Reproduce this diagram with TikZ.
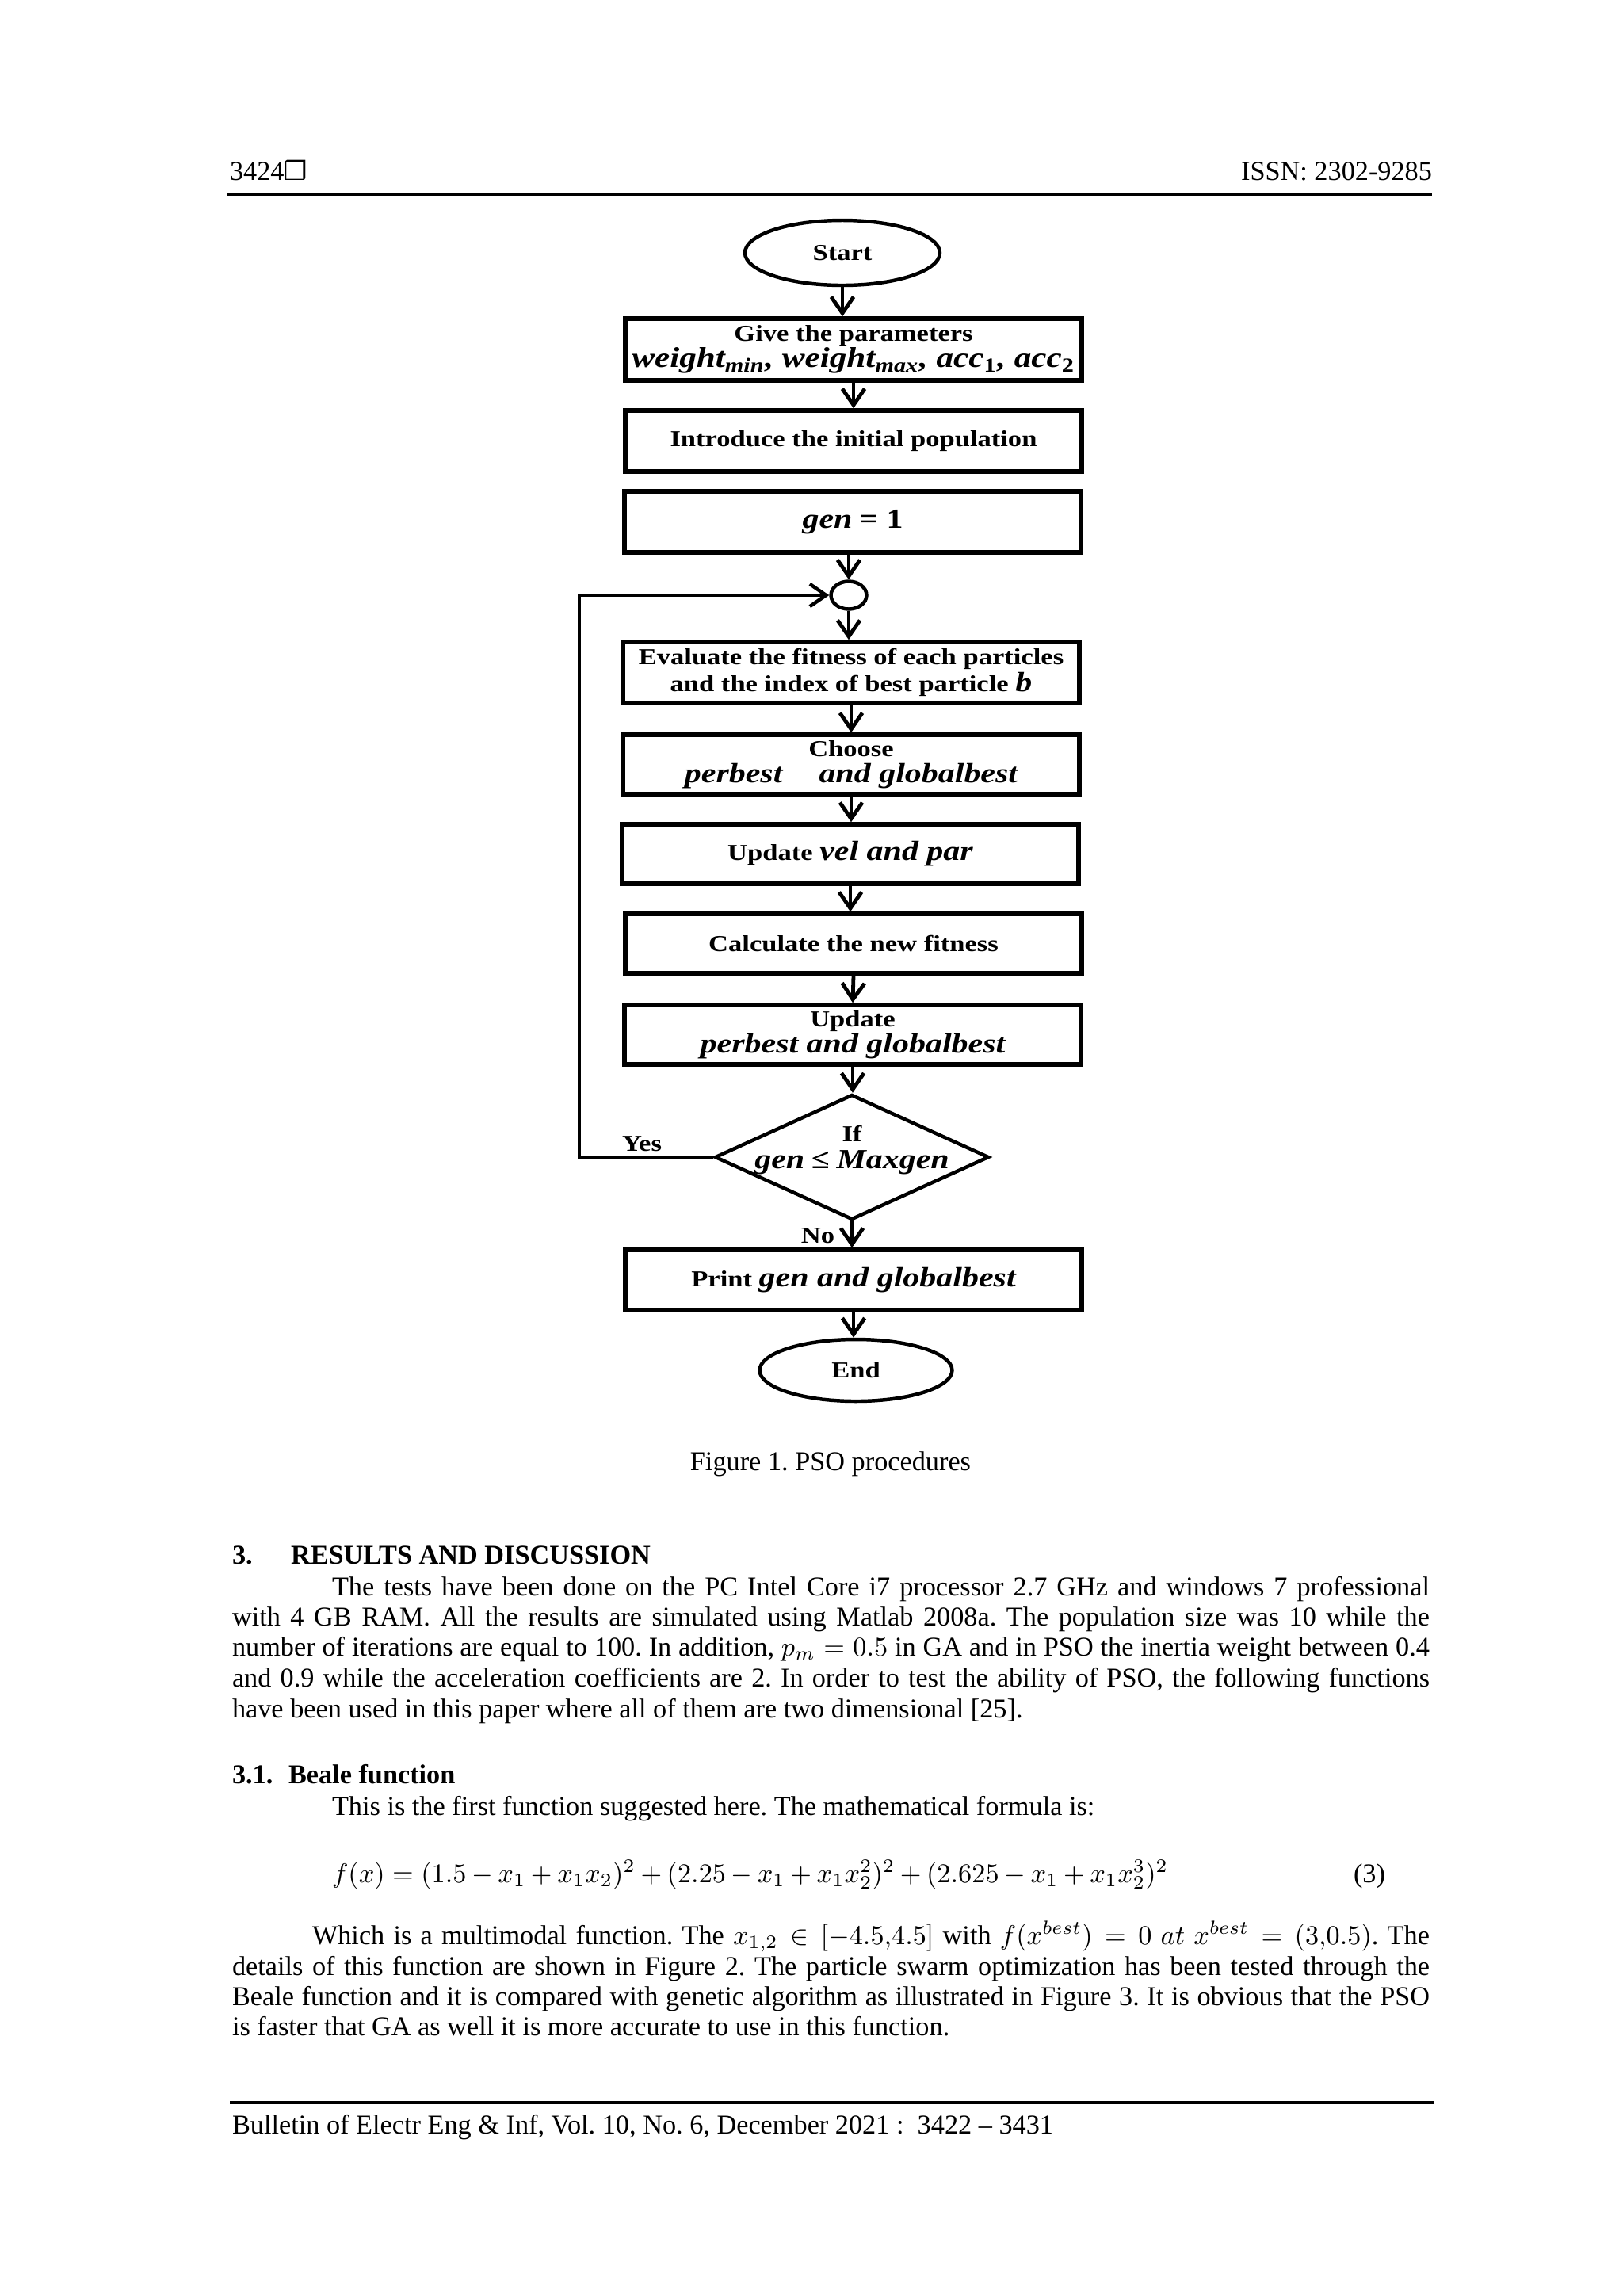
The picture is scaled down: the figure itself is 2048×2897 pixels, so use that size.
\documentclass[tikz,border=0pt]{standalone}
\usepackage{amsmath}
\usepackage{fontspec}
\setmainfont{Liberation Serif}
\newfontfamily\dejavu{DejaVu Sans}
\newfontfamily\fcfam[FakeStretch=1.2]{Liberation Serif}
\usetikzlibrary{shapes.geometric,arrows.meta}
\newdimen\pxu \pxu=0.1025390625mm
\frenchspacing
\newcommand\fcfont{\fcfam\bfseries\fontsize{8.4}{9.7}\selectfont}
\newcommand\vsz{\fontsize{10.2}{9.7}\selectfont\itshape}
\newcommand\vi[1]{{\vsz #1}}
\begin{document}
\begin{tikzpicture}[x=0.1025390625mm,y=-0.1025390625mm,
  pg/.style={anchor=base west, inner sep=0pt, outer sep=0pt, font=\fontsize{10}{12}\selectfont},
  pgb/.style={pg, font=\fontsize{10}{12}\selectfont\bfseries},
  box/.style={draw, line width=1.6pt, minimum width=576\pxu, minimum height=77\pxu, inner sep=0pt, align=center, font=\fcfont},
  term/.style={draw, ellipse, line width=1.3pt, inner sep=0pt, font=\fcfont},
  arr/.style={line width=1.4pt, -{Straight Barb[length=2.1mm,width=2.9mm]}},
  lbl/.style={anchor=base, inner sep=0pt, font=\fcfont}]
\useasboundingbox (0,0) rectangle (2048,2897);
\fill[white] (0,0) rectangle (2048,2897);

% header
\node[pg] (hdl) at (290,227) {3424{\dejavu\fontsize{9.5}{10}\selectfont ❒}};
\node[pg, anchor=base east] (hdr) at (1807,227) {ISSN: 2302-9285};
\coordinate (hr1) at (287,245);
\coordinate (hr2) at (1807,245);
\draw[line width=1.3pt] (hr1) -- (hr2);

% flowchart
\node[term, minimum width=246\pxu, minimum height=82\pxu] (start) at (1063,319) {Start};
\node[box, minimum height=78\pxu] (b1) at (1077,441) {Give the parameters\\ {\fontsize{10.5}{9.7}\selectfont\itshape weight\textsubscript{min}, weight\textsubscript{max}, acc\textsubscript{\upshape 1}, acc\textsubscript{\upshape 2}}};
\node[box] (b2) at (1077,556.5) {Introduce the initial population};
\node[box] (b3) at (1076,658.5) {\vi{gen} {\fontsize{10.2}{9.7}\selectfont= 1}};
\node[draw, ellipse, line width=1.3pt, minimum width=45\pxu, minimum height=35\pxu, inner sep=0pt] (circ) at (1071,751) {};
\node[box] (b4) at (1074,848.5) {Evaluate the fitness of each particles\\ and the index of best particle \vi{b}};
\node[box, minimum height=75\pxu] (b5) at (1074,964.5) {Choose\\ \vi{perbest}\quad\ \ \vi{and globalbest}};
\node[box, minimum height=75\pxu] (b6) at (1073,1077.5) {Update \vi{vel and par}};
\node[box, minimum height=75\pxu] (b7) at (1077,1190.5) {Calculate the new fitness};
\node[box, minimum height=75\pxu] (b8) at (1076,1305.5) {Update\\ \vi{perbest and globalbest}};
\node[draw, diamond, line width=1.3pt, minimum width=346\pxu, minimum height=158\pxu, inner sep=0pt] (dec) at (1075,1460) {};
\node[align=center, inner sep=0pt, font=\fcfont] (dect) at (1075,1451) {If\\ \vi{gen} {\fontsize{10.2}{9.7}\selectfont ≤} \vi{Maxgen}};
\node[box, minimum height=76\pxu] (b9) at (1077,1615) {Print \vi{gen and globalbest}};
\node[term, minimum width=243\pxu, minimum height=78\pxu] (end) at (1080,1729) {End};

\draw[arr] (start.south) -- (start.south |- b1.north);
\draw[arr] (b1.south) -- (b2.north);
\draw[arr] (circ |- b3.south) -- (circ.north);
\draw[arr] (circ.south) -- (circ.south |- b4.north);
\draw[arr] (b4.south) -- (b5.north);
\draw[arr] (b5.south) -- (b5.south |- b6.north);
\draw[arr] (b6.south) -- (b6.south |- b7.north);
\draw[arr] (b7.south) -- (b8.north);
\draw[arr] (b8.south) -- (b8.south |- dec.north);
\draw[arr] (dec.south) -- (dec.south |- b9.north);
\draw[arr] (b9.south) -- (b9.south |- end.north);
\coordinate (lb) at (731,1460);
\coordinate (lt) at (731,751);
\draw[arr, line width=1.3pt] (dec.west) -- (lb) -- (lt) -- (circ.west);
\node[lbl] (yes) at (810,1452) {Yes};
\node[lbl] (no) at (1032,1568) {No};

% caption
\node[pg, anchor=base] (cap) at (1048,1855) {Figure 1. PSO procedures};

% section 3
\node[pgb] (s3n) at (293,1973) {3.};
\node[pgb] (s3t) at (367,1973) {RESULTS AND DISCUSSION};
\node[pg] (p1) at (419,2013) {\hbox to 1385\pxu{The tests have been done on the PC Intel Core i7 processor 2.7 GHz and windows 7 professional}};
\node[pg] (p2) at (293,2051) {\hbox to 1511\pxu{with 4 GB RAM. All the results are simulated using Matlab 2008a. The population size was 10 while the}};
\node[pg] (p3) at (293,2089) {\hbox to 1511\pxu{number of iterations are equal to 100. In addition, $p_m = 0.5$ in GA and in PSO the inertia weight between 0.4}};
\node[pg] (p4) at (293,2128) {\hbox to 1511\pxu{and 0.9 while the acceleration coefficients are 2. In order to test the ability of PSO, the following functions}};
\node[pg] (p5) at (293,2167) {have been used in this paper where all of them are two dimensional [25].};

% section 3.1
\node[pgb] (s31n) at (293,2250) {3.1.};
\node[pgb] (s31t) at (364,2250) {Beale function};
\node[pg] (q1) at (419,2290) {This is the first function suggested here. The mathematical formula is:};
\node[pg] (eq) at (419,2375) {\hbox to 1055\pxu{$f(x) = (1.5 - x_1 + x_1x_2)^2 + (2.25 - x_1 + x_1x_2^2)^2 + (2.625 - x_1 + x_1x_2^3)^2$}};
\node[pg, anchor=base east] (eqn) at (1748,2375) {(3)};
\node[pg] (r1) at (394,2453) {\hbox to 1410\pxu{Which is a multimodal function. The $x_{1,2} \in [-4.5{,}4.5]$ with $f(x^{best}) = 0\ at\ x^{best} = (3{,}0.5)$. The}};
\node[pg] (r2) at (293,2492) {\hbox to 1511\pxu{details of this function are shown in Figure 2. The particle swarm optimization has been tested through the}};
\node[pg] (r3) at (293,2530) {\hbox to 1511\pxu{Beale function and it is compared with genetic algorithm as illustrated in Figure 3. It is obvious that the PSO}};
\node[pg] (r4) at (293,2568) {is faster that GA as well it is more accurate to use in this function.};

% footer
\coordinate (fr1) at (290,2653);
\coordinate (fr2) at (1810,2653);
\draw[line width=1.3pt] (fr1) -- (fr2);
\node[pg] (ftr) at (293,2692) {Bulletin of Electr Eng \& Inf, Vol. 10, No. 6, December 2021 :\ \ 3422 – 3431};
\end{tikzpicture}
\end{document}
